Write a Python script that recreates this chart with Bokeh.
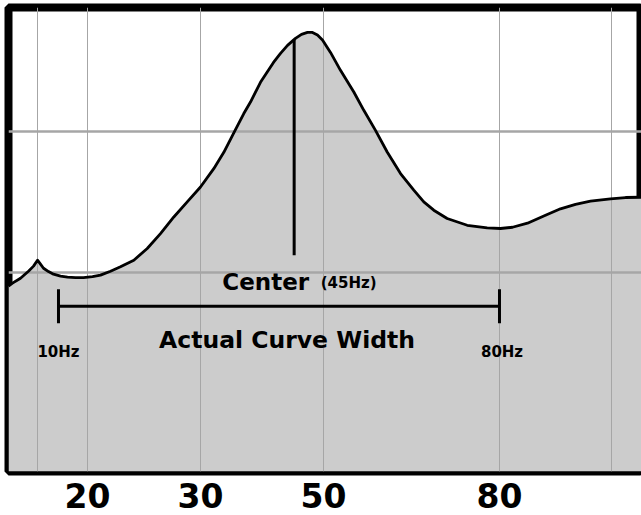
import numpy as np
from bokeh.plotting import figure
from bokeh.models import Range1d, FixedTicker
from bokeh.core.properties import value
from bokeh.embed import file_html
from bokeh.resources import INLINE

# Response curve: position along the (illustrative) frequency axis (0-100) and level (dB-like)
pos = [0.00, 0.63, 1.90, 3.16, 3.96, 4.59, 5.06, 5.54, 6.33, 7.12,
       8.23, 9.34, 10.60, 11.87, 13.29, 14.56, 16.14, 17.72, 19.83, 21.95,
       24.05, 26.16, 28.28, 30.38, 32.48, 34.07, 35.65, 37.23, 38.29, 39.87,
       41.93, 43.04, 44.15, 45.41, 46.36, 47.31, 48.10, 48.89, 49.68, 50.95,
       52.53, 54.64, 56.22, 58.07, 59.92, 62.03, 64.13, 65.71, 67.29, 69.41, 72.58,
       75.74, 77.85, 79.75, 82.12, 84.97, 87.34, 89.72, 92.09, 95.25, 97.63,
       100.16]
level = [-0.99, -0.78, -0.43, 0.07, 0.43, 0.85, 0.57, 0.28, 0.04, -0.14,
         -0.28, -0.35, -0.39, -0.38, -0.32, -0.21, 0.07, 0.38, 0.85, 1.68,
         2.74, 3.92, 4.99, 6.05, 7.35, 8.51, 9.89, 11.26, 12.08, 13.48,
         14.89, 15.53, 16.10, 16.60, 16.88, 17.02, 17.02, 16.84, 16.49, 15.60,
         14.33, 12.79, 11.49, 10.07, 8.53, 7.00, 5.82, 4.99, 4.40, 3.81, 3.33,
         3.14, 3.10, 3.19, 3.48, 4.04, 4.50, 4.82, 5.04, 5.21, 5.30,
         5.32]

grid_pos = [4.59, 12.5, 30.38, 49.84, 77.69, 95.41]
tick_pos = [12.5, 30.38, 49.84, 77.69]
tick_labels = ["20", "30", "50", "80"]
level_grid = [0, 10]

center_pos = 45.2
center_base = 1.2
width_lo = 7.91
width_hi = 77.69
width_level = -2.42
cap_half = 1.2

Y0, Y1 = -14.15, 18.79
font = value("DejaVu Sans")

p = figure(width=641, height=515, x_range=Range1d(0, 100.16), y_range=Range1d(Y0, Y1),
           output_backend="svg", toolbar_location=None, y_axis_location=None,
           min_border_left=8, min_border_right=0, min_border_top=7, min_border_bottom=44,
           background_fill_color="white", border_fill_color="white")
p.outline_line_color = "black"
p.outline_line_width = 8
p.outline_line_alpha = 1.0

# fill under curve (below grid)
p.varea(x=pos, y1=Y0, y2=level, fill_color="#cccccc", level="image")

# grids
p.xaxis.ticker = FixedTicker(ticks=tick_pos)
p.xgrid.ticker = FixedTicker(ticks=grid_pos)
p.xgrid.grid_line_color = "#a6a6a6"
p.xgrid.grid_line_width = 1
p.ygrid.ticker = FixedTicker(ticks=level_grid)
p.ygrid.grid_line_color = "#a6a6a6"
p.ygrid.grid_line_width = 2.5

# axis
p.xaxis.major_label_overrides = dict(zip(tick_pos, tick_labels))
p.xaxis.axis_line_color = None
p.xaxis.major_tick_line_color = None
p.xaxis.minor_tick_line_color = None
p.xaxis.major_tick_out = 0
p.xaxis.major_tick_in = 0
p.xaxis.minor_tick_out = 0
p.xaxis.minor_tick_in = 0
p.xaxis.major_label_standoff = 11
p.xaxis.major_label_text_font = "DejaVu Sans"
p.xaxis.major_label_text_font_style = "bold"
p.xaxis.major_label_text_font_size = "33px"
p.xaxis.major_label_text_color = "black"

# curve
p.line(pos, level, line_color="black", line_width=2.8, line_join="round")

# center marker
peak_at_center = float(np.interp(center_pos, pos, level))
p.segment(x0=[center_pos], y0=[center_base], x1=[center_pos], y1=[peak_at_center],
          line_color="black", line_width=3)

# width bar with end caps
p.segment(x0=[width_lo], y0=[width_level], x1=[width_hi], y1=[width_level],
          line_color="black", line_width=3)
p.segment(x0=[width_lo, width_hi], y0=[width_level - cap_half, width_level - cap_half],
          x1=[width_lo, width_hi], y1=[width_level + cap_half, width_level + cap_half],
          line_color="black", line_width=3)

# texts
p.text(x=[40.7], y=[-0.71], text=["Center"], text_font=font, text_font_style="bold",
       text_font_size="23px", text_align="center", text_baseline="alphabetic", text_color="black")
p.text(x=[49.4], y=[-0.78], text=["(45Hz)"], text_font=font, text_font_style="bold",
       text_font_size="15px", text_align="left", text_baseline="alphabetic", text_color="black")
p.text(x=[44.07], y=[-4.82], text=["Actual Curve Width"], text_font=font, text_font_style="bold",
       text_font_size="23.5px", text_align="center", text_baseline="alphabetic", text_color="black")
p.text(x=[width_lo, 78.09], y=[-5.67, -5.67], text=["10Hz", "80Hz"], text_font=font,
       text_font_style="bold", text_font_size="15px", text_align="center",
       text_baseline="alphabetic", text_color="black")

open("out.html", "w").write(file_html(p, INLINE))
